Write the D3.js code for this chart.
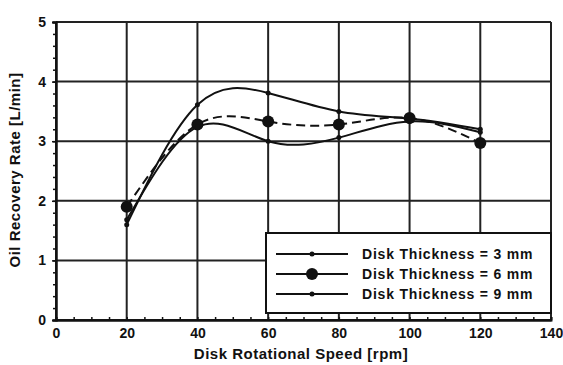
<!DOCTYPE html>
<html>
<head>
<meta charset="utf-8">
<script src="https://cdn.jsdelivr.net/npm/d3@7"></script>
<style>
  body { margin: 0; background: #fff; }
  text { font-family: "Liberation Sans", Arial, sans-serif; font-weight: bold; fill: #111; }
</style>
</head>
<body>
<svg width="563" height="365"></svg>
<script>
// data
var speeds = [20, 40, 60, 80, 100, 120];
var thick3 = [1.6, 3.61, 3.81, 3.5, 3.38, 3.2];
var thick6 = [1.9, 3.28, 3.33, 3.28, 3.39, 2.97];
var thick9 = [1.68, 3.24, 3.0, 3.06, 3.33, 3.15];
var seriesNames = ['Disk Thickness = 3 mm', 'Disk Thickness = 6 mm', 'Disk Thickness = 9 mm'];
var xTicks = [0, 20, 40, 60, 80, 100, 120, 140];
var yTicks = [0, 1, 2, 3, 4, 5];

var margin = {top: 22, right: 12, bottom: 45, left: 56},
    svg = d3.select('svg'),
    width = +svg.attr('width') - margin.left - margin.right,
    height = +svg.attr('height') - margin.top - margin.bottom;

var x = d3.scaleLinear().domain([0, 140]).range([0, width]);
var y = d3.scaleLinear().domain([0, 5]).range([height, 0]);

var g = svg.append('g').attr('transform', 'translate(' + margin.left + ',' + margin.top + ')');

// grid
g.selectAll('line.vgrid').data(xTicks).enter().append('line')
    .attr('x1', d => x(d)).attr('x2', d => x(d))
    .attr('y1', 0).attr('y2', height)
    .attr('stroke', '#222').attr('stroke-width', 2);
g.selectAll('line.hgrid').data(yTicks).enter().append('line')
    .attr('x1', 0).attr('x2', width)
    .attr('y1', d => y(d)).attr('y2', d => y(d))
    .attr('stroke', '#222').attr('stroke-width', 2);

// axes
var xAxis = g.append('g')
    .attr('transform', 'translate(0,' + height + ')')
    .call(d3.axisBottom(x).tickValues(xTicks).tickFormat(d3.format('d')).tickSize(0).tickPadding(5));
var yAxis = g.append('g')
    .call(d3.axisLeft(y).tickValues(yTicks).tickFormat(d3.format('d')).tickSize(4).tickPadding(6));
// minor ticks
g.append('g')
    .attr('transform', 'translate(0,' + height + ')')
    .call(d3.axisBottom(x).ticks(35).tickSize(-3).tickFormat(''));
g.append('g')
    .call(d3.axisLeft(y).ticks(25).tickSize(3).tickFormat(''));

g.selectAll('.domain').attr('stroke', '#111').attr('stroke-width', 2);
g.selectAll('.tick line').attr('stroke', '#111').attr('stroke-width', 1.5);
g.selectAll('.tick text').style('font-size', '14px').style('font-family', '"Liberation Sans", Arial, sans-serif').style('font-weight', 'bold').attr('fill', '#111');
xAxis.selectAll('.tick text').attr('dy', '0.9em');

// axis titles
svg.append('text')
    .attr('x', 301).attr('y', 359)
    .attr('text-anchor', 'middle').style('font-size', '15px').style('letter-spacing', '0.5px')
    .text('Disk Rotational Speed [rpm]');
svg.append('text')
    .attr('transform', 'translate(20,' + 170 + ') rotate(-90)')
    .attr('text-anchor', 'middle').style('font-size', '15px').style('letter-spacing', '0.5px')
    .text('Oil Recovery Rate [L/min]');

// lines
var line = d3.line()
    .x(d => x(d[0]))
    .y(d => y(d[1]))
    .curve(d3.curveNatural);

var series = [
  {vals: thick3, dash: null, r: 2.5},
  {vals: thick6, dash: '9,5', r: 6},
  {vals: thick9, dash: null, r: 2.5}
];

series.forEach(s => {
  var pts = speeds.map((sp, i) => [sp, s.vals[i]]);
  g.append('path')
      .datum(pts)
      .attr('d', line)
      .attr('fill', 'none')
      .attr('stroke', '#111')
      .attr('stroke-width', 2)
      .attr('stroke-dasharray', s.dash);
  g.selectAll(null).data(pts).enter().append('circle')
      .attr('cx', d => x(d[0])).attr('cy', d => y(d[1]))
      .attr('r', s.r).attr('fill', '#111');
});

// legend
var lg = svg.append('g').attr('transform', 'translate(266,233)');
lg.append('rect')
    .attr('width', 285).attr('height', 80)
    .attr('fill', '#fff').attr('stroke', '#111').attr('stroke-width', 2);
seriesNames.forEach((name, i) => {
  var yy = 21 + i * 20;
  lg.append('line')
      .attr('x1', 10).attr('x2', 82).attr('y1', yy).attr('y2', yy)
      .attr('stroke', '#111').attr('stroke-width', 2);
  lg.append('circle')
      .attr('cx', 46).attr('cy', yy).attr('r', series[i].r)
      .attr('fill', '#111');
  lg.append('text')
      .attr('x', 96).attr('y', yy + 5)
      .style('font-size', '14px').style('letter-spacing', '0.8px')
      .text(name);
});
</script>
</body>
</html>
